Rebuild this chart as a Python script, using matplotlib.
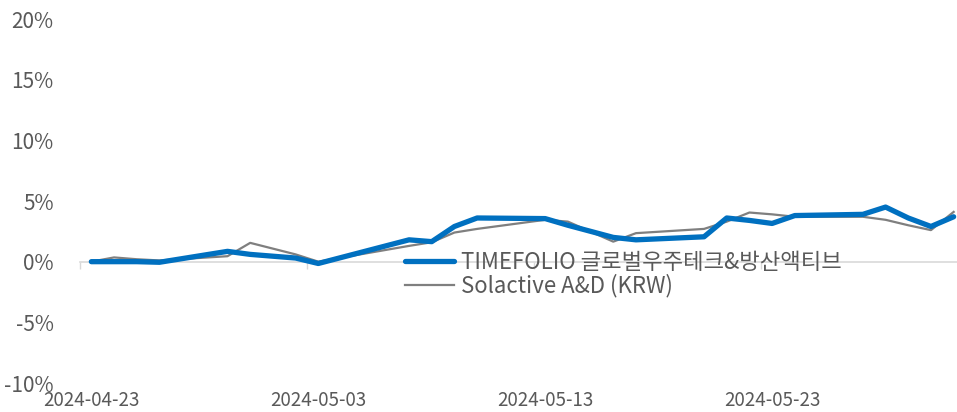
import matplotlib
matplotlib.use("Agg")
import matplotlib.pyplot as plt
import matplotlib.dates as mdates
import numpy as np
import pandas as pd

plt.rcParams['font.family'] = ['Noto Sans CJK KR', 'DejaVu Sans']

dates = ["2024-04-23", "2024-04-24", "2024-04-25", "2024-04-26", "2024-04-29", "2024-04-30",
         "2024-05-02", "2024-05-03", "2024-05-07", "2024-05-08", "2024-05-09", "2024-05-10",
         "2024-05-13", "2024-05-14", "2024-05-16", "2024-05-17", "2024-05-20", "2024-05-21",
         "2024-05-22", "2024-05-23", "2024-05-24", "2024-05-27", "2024-05-28", "2024-05-29",
         "2024-05-30", "2024-05-31"]
fund = [0.0, 0.0, 0.0, -0.05, 0.85, 0.6,
        0.3, -0.15, 1.8, 1.65, 2.9, 3.6,
        3.55, 3.0, 2.0, 1.8, 2.05, 3.6,
        3.4, 3.15, 3.8, 3.9, 4.5, 3.6,
        2.9, 3.7]
index = [0.0, 0.35, 0.2, 0.1, 0.45, 1.55,
         0.6, 0.0, 1.3, 1.6, 2.4, 2.7,
         3.45, 3.3, 1.65, 2.35, 2.7, 3.3,
         4.05, 3.9, 3.7, 3.7, 3.45, 3.0,
         2.6, 4.1]
series_names = ["TIMEFOLIO 글로벌우주테크&방산액티브", "Solactive A&D (KRW)"]
yticks = [-10, -5, 0, 5, 10, 15, 20]
xtick_labels = ["2024-04-23", "2024-05-03", "2024-05-13", "2024-05-23"]

d = pd.to_datetime(dates)
x = mdates.date2num(d)
xt = mdates.date2num(pd.to_datetime(xtick_labels))

W, H = 957, 412
fig = plt.figure(figsize=(W / 100, H / 100), dpi=100)
left, right = 80 / W, 965 / W
bottom, top = 1 - 383 / H, 1 - 19 / H
ax = fig.add_axes([left, bottom, right - left, top - bottom])

ymin, ymax = -10, 20
ax.set_ylim(ymin, ymax)
ax.set_xlim(x[0] - 0.5, x[-1] + 0.5)

text_col = "#595959"
ax.plot(x, index, color="#7F7F7F", lw=1.6, solid_joinstyle="round", zorder=3, label=series_names[1])
ax.plot(x, fund, color="#0070C0", lw=3.8, solid_capstyle="round", solid_joinstyle="round", zorder=4, label=series_names[0])

for s in ax.spines.values():
    s.set_visible(False)

ax.set_yticks(yticks)
ax.set_yticklabels([f"{v}%" for v in yticks], fontweight="light")
ax.tick_params(axis="y", length=0, pad=19, labelsize=15, labelcolor=text_col)

ax.set_xticks(xt)
ax.set_xticklabels(xtick_labels, fontweight="light")
ax.tick_params(axis="x", length=0, pad=5, labelsize=13.5, labelcolor=text_col)

# zero axis line with tick marks between categories
sec = ax.secondary_xaxis((0 - ymin) / (ymax - ymin))
sec.set_xticks(xt - 0.5)
sec.set_xticklabels([])
sec.tick_params(axis="x", length=5, width=1, color="#D9D9D9", direction="out")
sec.spines["bottom"].set_color("#D9D9D9")
sec.spines["bottom"].set_linewidth(1.2)
sec.set_zorder(1)

handles, labels = ax.get_legend_handles_labels()
leg = ax.legend(handles[::-1], labels[::-1], loc="upper left",
                bbox_to_anchor=(405 / W, 1 - 251 / H), bbox_transform=fig.transFigure,
                frameon=False, prop={"size": 16, "weight": "light"},
                handlelength=2.2, handletextpad=0.3,
                labelspacing=0.0, borderpad=0, borderaxespad=0)
for t in leg.get_texts():
    t.set_color(text_col)
leg.set_zorder(5)

fig.savefig("out.png", dpi=100)
